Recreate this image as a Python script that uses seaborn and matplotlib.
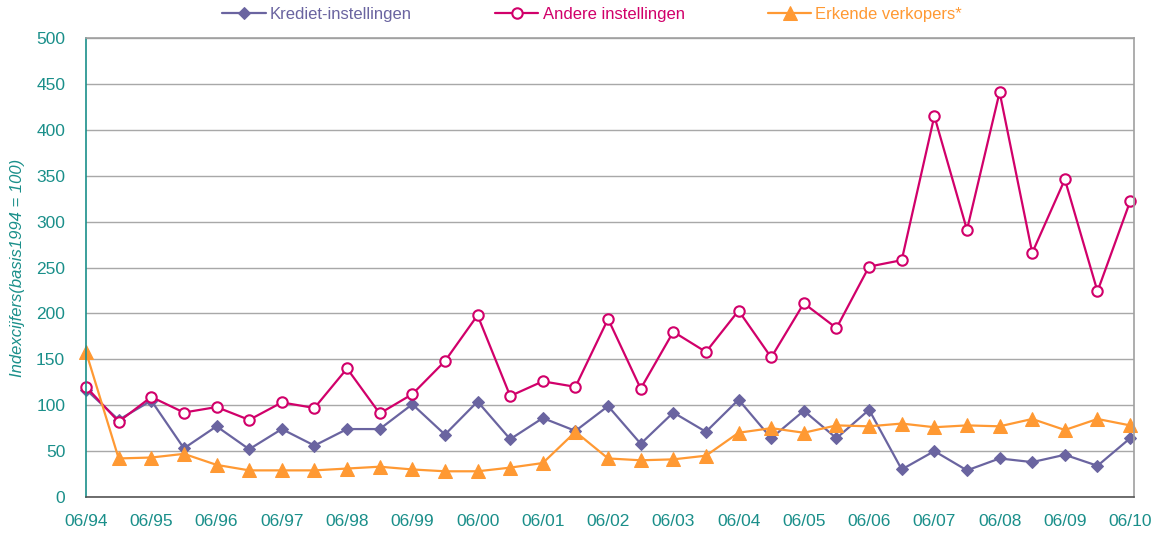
import numpy as np
import pandas as pd
import matplotlib
matplotlib.use('Agg')
import matplotlib.pyplot as plt
import seaborn as sns

# half-yearly observations 06/94 .. 06/10
periods = ['06/94', '12/94', '06/95', '12/95', '06/96', '12/96', '06/97', '12/97',
           '06/98', '12/98', '06/99', '12/99', '06/00', '12/00', '06/01', '12/01',
           '06/02', '12/02', '06/03', '12/03', '06/04', '12/04', '06/05', '12/05',
           '06/06', '12/06', '06/07', '12/07', '06/08', '12/08', '06/09', '12/09', '06/10']

krediet = [117, 84, 105, 53, 77, 52, 74, 56, 74, 74, 101, 68, 104, 63, 86, 72,
           99, 58, 92, 71, 106, 64, 94, 64, 95, 30, 50, 29, 42, 38, 46, 34, 64]
andere = [120, 82, 109, 92, 98, 84, 103, 97, 140, 91, 112, 148, 198, 110, 126, 120,
          194, 118, 180, 158, 203, 152, 211, 184, 251, 258, 415, 291, 441, 266, 346, 224, 322]
erkende = [158, 42, 43, 47, 35, 29, 29, 29, 31, 33, 30, 28, 28, 32, 37, 71,
           42, 40, 41, 45, 70, 75, 70, 78, 77, 80, 76, 78, 77, 85, 73, 85, 78]

teal = '#1A8F8A'
c_kred = '#6A64A0'
c_and = '#D1006A'
c_erk = '#FF9933'

sns.set_style('white')
plt.rcParams['font.family'] = ['Liberation Sans', 'DejaVu Sans']

df = pd.DataFrame({'idx': np.arange(len(periods)), 'Krediet-instellingen': krediet,
                   'Andere instellingen': andere, 'Erkende verkopers*': erkende})

fig = plt.figure(figsize=(11.58, 5.34), dpi=100)
ax = fig.add_axes([0.0743, 0.0693, 0.905, 0.8595])

sns.lineplot(data=df, x='idx', y='Krediet-instellingen', ax=ax, color=c_kred, lw=1.6,
             marker='D', markersize=6.5, markeredgecolor=c_kred, label='Krediet-instellingen',
             clip_on=False)
sns.lineplot(data=df, x='idx', y='Andere instellingen', ax=ax, color=c_and, lw=1.6,
             marker='o', markersize=7.5, markerfacecolor='white', markeredgecolor=c_and,
             markeredgewidth=1.5, label='Andere instellingen', clip_on=False)
sns.lineplot(data=df, x='idx', y='Erkende verkopers*', ax=ax, color=c_erk, lw=1.6,
             marker='^', markersize=10, markeredgecolor=c_erk, label='Erkende verkopers*',
             clip_on=False)

ax.set_xlim(0, len(periods) - 1 + 0.12)
ax.set_ylim(0, 500)
ax.set_yticks(range(0, 501, 50))
ax.set_xticks(range(0, len(periods), 2))
ax.set_xticklabels(periods[::2])
ax.yaxis.grid(True, color='#A8A8A8', lw=1)
ax.set_axisbelow(True)

ax.tick_params(axis='both', colors=teal, labelsize=12.5, length=5, width=1, direction='out')
ax.tick_params(axis='x', colors='#333333', labelcolor=teal, pad=7)
ax.tick_params(axis='y', pad=10)
ax.set_xlabel('')
ax.set_ylabel('Indexcijfers(basis1994 = 100)', color=teal, style='italic', fontsize=12,
              labelpad=8)

for side in ['top', 'right']:
    ax.spines[side].set_color('#A0A0A0')
ax.spines['left'].set_color(teal)
ax.spines['bottom'].set_color('#555555')
for s in ax.spines.values():
    s.set_linewidth(1.2)

leg = ax.legend(loc='upper center', bbox_to_anchor=(0.483, 1.1), ncol=3, frameon=False,
                fontsize=12, handlelength=2.6, columnspacing=5.0, handletextpad=0.25)
for txt, col in zip(leg.get_texts(), [c_kred, c_and, c_erk]):
    txt.set_color(col)

fig.savefig('out.png', dpi=100)
